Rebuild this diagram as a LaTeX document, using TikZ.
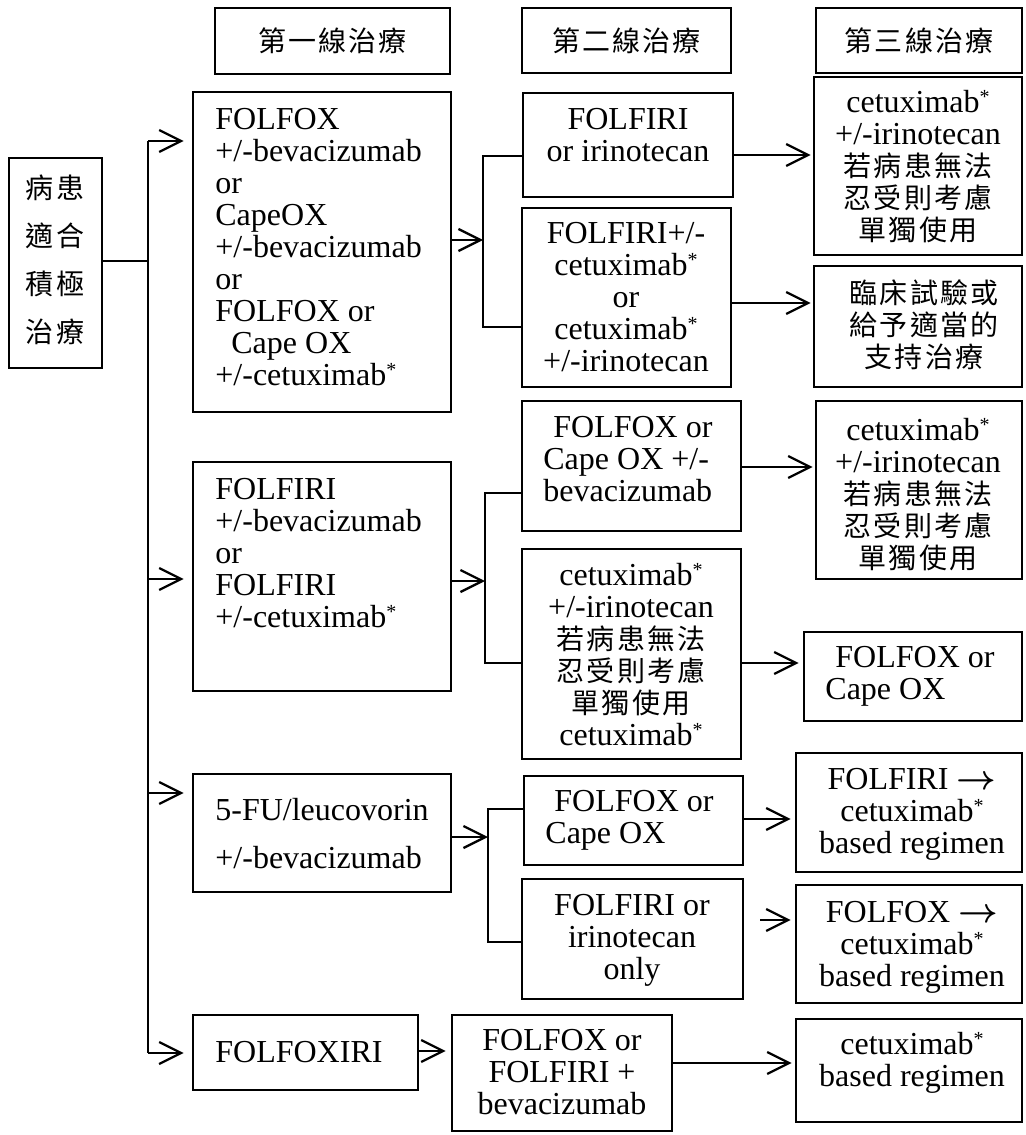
\documentclass[tikz,border=0pt]{standalone}
\usepackage{fontspec}
\setmainfont{Liberation Serif}
\newfontfamily\cjk[LetterSpace=8]{Noto Sans CJK TC}
\usetikzlibrary{arrows.meta,fit}
\newcommand\zh[1]{{\cjk\fontsize{14}{16}\selectfont #1}}
\newcommand\sstar{\raisebox{4.5pt}{\fontsize{10}{10}\selectfont *}}
\newcommand\fst{\rule{0pt}{14pt}}
\newcommand\rarr{{\boldmath$\rightarrow$}}
\begin{document}
\begin{tikzpicture}[x=0.5pt,y=-0.5pt,
  box/.style={draw, line width=1.3pt, inner sep=0pt},
  line/.style={line width=1.15pt},
  arr/.style={line width=1.15pt, -{Straight Barb[length=11pt,width=11pt]}},
  txt/.style={inner sep=0pt, font=\fontsize{16}{16}\selectfont},
  ctxt/.style={txt, align=center, anchor=north},
  ltxt/.style={txt, align=left, anchor=north west}]
\useasboundingbox (0,0) rectangle (1025,1135);
% header boxes
\node[box, fit={(215,8) (450,74)}] (H1) {};
\node[box, fit={(522,8) (731,73)}] (H2) {};
\node[box, fit={(816,8) (1022,73)}] (H3) {};
\node[txt] (H1t) at (H1.center) {\zh{第一線治療}};
\node[txt] (H2t) at (H2.center) {\zh{第二線治療}};
\node[txt] (H3t) at (H3.center) {\zh{第三線治療}};
% boxes
\node[box, fit={(9,158) (102,368)}] (L) {};
\node[box, fit={(193,92) (451,412)}] (A1) {};
\node[box, fit={(193,462) (451,691)}] (A2) {};
\node[box, fit={(193,774) (451,892)}] (A3) {};
\node[box, fit={(193,1015) (418,1090)}] (A4) {};
\node[box, fit={(523,93) (733,197)}] (B1) {};
\node[box, fit={(522,208) (731,387)}] (B2) {};
\node[box, fit={(522,401) (741,531)}] (B3) {};
\node[box, fit={(522,549) (741,759)}] (B4) {};
\node[box, fit={(524,776) (743,865)}] (B5) {};
\node[box, fit={(522,879) (743,999)}] (B6) {};
\node[box, fit={(452,1015) (672,1131)}] (B7) {};
\node[box, fit={(814,77) (1022,255)}] (C1) {};
\node[box, fit={(814,266) (1022,387)}] (C2) {};
\node[box, fit={(816,401) (1022,579)}] (C3) {};
\node[box, fit={(804,632) (1022,721)}] (C4) {};
\node[box, fit={(796,753) (1022,872)}] (C5) {};
\node[box, fit={(796,885) (1022,1003)}] (C6) {};
\node[box, fit={(796,1019) (1022,1122)}] (C7) {};
% texts
\node[txt, align=center, font=\fontsize{16}{24}\selectfont] (Lt) at (55,260) {\zh{病患}\\\zh{適合}\\\zh{積極}\\\zh{治療}};
\node[ltxt] (A1t) at (215,101) {\fst FOLFOX\\+/-bevacizumab\\or\\CapeOX\\+/-bevacizumab\\or\\FOLFOX or\\\hspace*{8pt}Cape OX\\+/-cetuximab\sstar};
\node[ltxt] (A2t) at (215,471) {\fst FOLFIRI\\+/-bevacizumab\\or\\FOLFIRI\\+/-cetuximab\sstar};
\node[ltxt, font=\fontsize{16}{24}\selectfont] (A3t) at (215,792) {\fst 5-FU/leucovorin\\+/-bevacizumab};
\node[ltxt] (A4t) at (215,1034) {\fst FOLFOXIRI};
\node[ctxt] (B1t) at (628,101) {\fst FOLFIRI\\or irinotecan};
\node[ctxt] (B2t) at (626,215) {\fst FOLFIRI+/-\\cetuximab\sstar\\or\\cetuximab\sstar\\+/-irinotecan};
\node[ltxt] (B3t) at (543,409) {\fst\hspace*{5pt}FOLFOX or\\Cape OX +/-\\bevacizumab};
\node[ctxt] (B4t) at (631,557) {\fst cetuximab\sstar\\+/-irinotecan\\\zh{若病患無法}\\\zh{忍受則考慮}\\\zh{單獨使用}\\cetuximab\sstar};
\node[ltxt] (B5t) at (545,783) {\fst\hspace*{4.5pt}FOLFOX or\\Cape OX};
\node[ctxt] (B6t) at (632,887) {\fst FOLFIRI or\\irinotecan\\only};
\node[ctxt] (B7t) at (562,1022) {\fst FOLFOX or\\FOLFIRI +\\bevacizumab};
\node[ctxt] (C1t) at (918,84) {\fst cetuximab\sstar\\+/-irinotecan\\\zh{若病患無法}\\\zh{忍受則考慮}\\\zh{單獨使用}};
\node[txt, align=center] (C2t) at (924,325) {\zh{臨床試驗或}\\\zh{給予適當的}\\\zh{支持治療}};
\node[ctxt] (C3t) at (918,412) {\fst cetuximab\sstar\\+/-irinotecan\\\zh{若病患無法}\\\zh{忍受則考慮}\\\zh{單獨使用}};
\node[ltxt] (C4t) at (825,639) {\fst\hspace*{5pt}FOLFOX or\\Cape OX};
\node[ctxt] (C5t) at (912,761) {\fst FOLFIRI \rarr\\cetuximab\sstar\\based regimen};
\node[ctxt] (C6t) at (912,894) {\fst FOLFOX \rarr\\cetuximab\sstar\\based regimen};
\node[ctxt] (C7t) at (912,1026) {\fst cetuximab\sstar\\based regimen};
% trunk
\coordinate (T0) at (148,141);
\coordinate (T1) at (148,261);
\coordinate (T2) at (148,579);
\coordinate (T3) at (148,793);
\coordinate (T4) at (148,1053);
\draw[line] (L.east |- T1) -- (T1);
\draw[line] (T0) -- (T4);
\draw[arr, shorten >=4pt] (T0) -- (A1.west |- T0);
\draw[arr, shorten >=4pt] (T2) -- (A2.west |- T2);
\draw[arr, shorten >=4pt] (T3) -- (A3.west |- T3);
\draw[arr, shorten >=4pt] (T4) -- (A4.west |- T4);
% brackets
\coordinate (K1) at (483,240); \coordinate (K1a) at (483,156); \coordinate (K1b) at (483,327);
\draw[arr] (A1.east |- K1) -- (K1);
\draw[line] (B1.west |- K1a) -- (K1a) -- (K1b) -- (B2.west |- K1b);
\coordinate (K2) at (485,581); \coordinate (K2a) at (485,493); \coordinate (K2b) at (485,663);
\draw[arr] (A2.east |- K2) -- (K2);
\draw[line] (B3.west |- K2a) -- (K2a) -- (K2b) -- (B4.west |- K2b);
\coordinate (K3) at (488,837); \coordinate (K3a) at (488,809); \coordinate (K3b) at (488,942);
\draw[arr] (A3.east |- K3) -- (K3);
\draw[line] (B5.west |- K3a) -- (K3a) -- (K3b) -- (B6.west |- K3b);
% right arrows
\draw[arr, shorten >=1pt] (B1.east |- 0,155) -- (C1.west |- 0,155);
\draw[arr, shorten >=1pt] (B2.east |- 0,303) -- (C2.west |- 0,303);
\draw[arr, shorten >=1pt] (B3.east |- 0,467) -- (C3.west |- 0,467);
\draw[arr, shorten >=2pt] (B4.east |- 0,663) -- (C4.west |- 0,663);
\draw[arr, shorten >=2pt] (B5.east |- 0,819) -- (C5.west |- 0,819);
\draw[arr, shorten >=2pt] ([xshift=8pt]B6.east |- 0,920) -- (C6.west |- 0,920);
\draw[arr, shorten >=1.5pt] (B7.east |- 0,1063) -- (C7.west |- 0,1063);
\draw[arr, shorten >=2.5pt] (A4.east |- 0,1051) -- (B7.west |- 0,1051);
\end{tikzpicture}
\end{document}
